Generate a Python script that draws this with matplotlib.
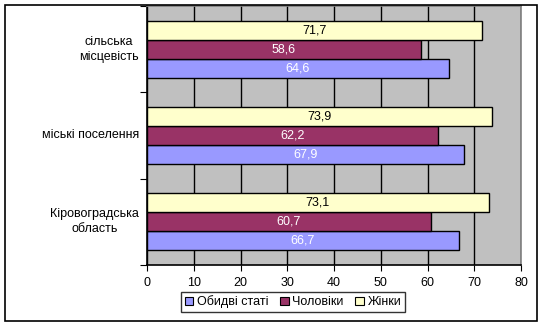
import numpy as np
import matplotlib.pyplot as plt
from matplotlib.patches import Rectangle

# Life expectancy by settlement type and sex
categories = ['Кіровоградська\nобласть', 'міські поселення', 'сільська\nмісцевість']
both_sexes = [66.7, 67.9, 64.6]
men = [60.7, 62.2, 58.6]
women = [73.1, 73.9, 71.7]
series_names = ['Обидві статі', 'Чоловіки', 'Жінки']
x_ticks = [0, 10, 20, 30, 40, 50, 60, 70, 80]

colors = ['#9999FF', '#993366', '#FFFFCC']
label_colors = ['white', 'white', 'black']

plt.rcParams['font.family'] = ['Liberation Sans', 'DejaVu Sans']
fs = 9

W, H = 542, 326
fig = plt.figure(figsize=(W / 100, H / 100), dpi=100)

# outer chart frame
fig.patches.append(Rectangle((5 / W, 1 - 321 / H), 532 / W, 316 / H,
                             transform=fig.transFigure, fill=False,
                             edgecolor='black', linewidth=1.2))

ax = fig.add_axes([147 / W, 1 - 265 / H, (521 - 147) / W, (265 - 6) / H])
ax.set_facecolor('#C0C0C0')

y = np.arange(len(categories))
bar_h = 0.22
data = [both_sexes, men, women]
for i, (vals, name) in enumerate(zip(data, series_names)):
    pos = y + (i - 1) * bar_h
    bars = ax.barh(pos, vals, height=bar_h, color=colors[i], edgecolor='black',
                   linewidth=1, label=name, zorder=3)
    for b, v in zip(bars, vals):
        ax.text(v / 2, b.get_y() + b.get_height() / 2, f'{v:.1f}'.replace('.', ','),
                ha='center', va='center', fontsize=fs, color=label_colors[i], zorder=4)

ax.set_xlim(0, 80)
ax.set_ylim(-0.5, len(categories) - 0.5)
ax.set_xticks(x_ticks)
ax.tick_params(axis='x', direction='out', length=4, labelsize=fs, pad=5)
ax.xaxis.grid(True, color='black', linewidth=1, zorder=0)

# category labels between boundary ticks
ax.set_yticks(np.arange(len(categories) + 1) - 0.5)
ax.set_yticklabels([])
ax.tick_params(axis='y', direction='out', length=5)
for yi, cat in zip(y, categories):
    ax.text(-0.022, yi, cat, transform=ax.get_yaxis_transform(), ha='right',
            multialignment='center', va='center', fontsize=fs, linespacing=1.3)

for side in ['left', 'bottom']:
    ax.spines[side].set_color('black')
    ax.spines[side].set_linewidth(1.2)
for side in ['top', 'right']:
    ax.spines[side].set_color('#808080')
    ax.spines[side].set_linewidth(1.2)

leg = fig.legend(loc='center', bbox_to_anchor=(293 / W, 1 - 302 / H), ncol=3,
                 fontsize=fs, frameon=True, fancybox=False, edgecolor='black',
                 handlelength=0.7, handleheight=0.7, handletextpad=0.3,
                 columnspacing=0.9, borderpad=0.3, borderaxespad=0)
leg.get_frame().set_linewidth(1)
for h in leg.legend_handles:
    h.set_linewidth(0.8)

fig.savefig('out.png', dpi=100)
